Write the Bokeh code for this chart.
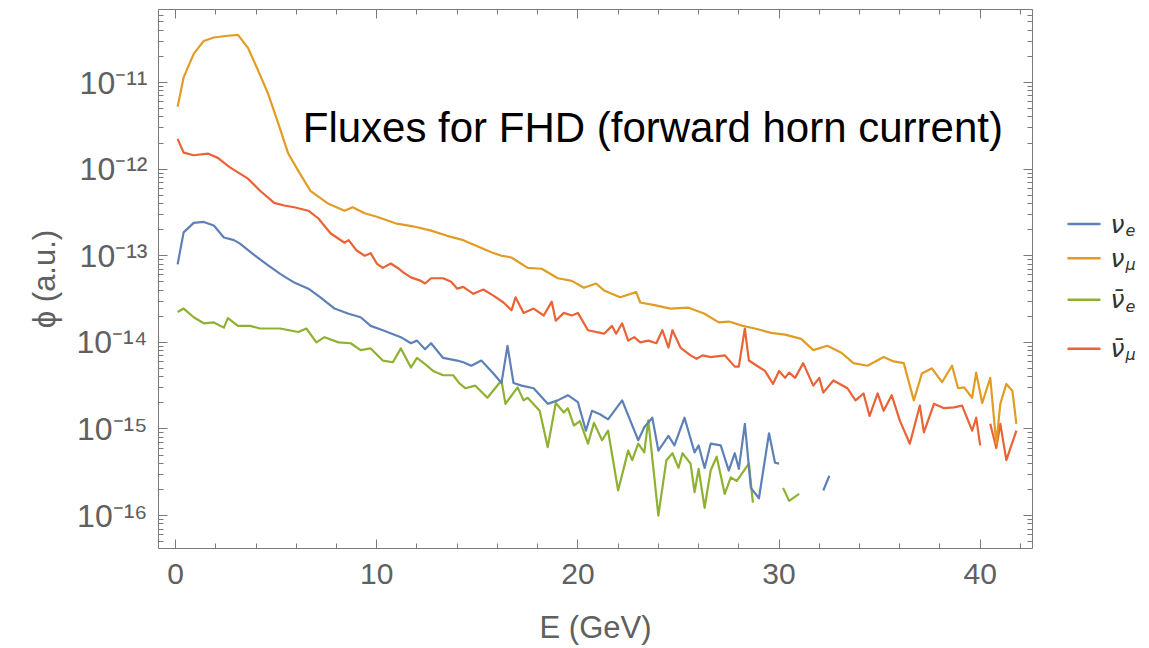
import math
from bokeh.plotting import figure
from bokeh.layouts import row
from bokeh.models import (Range1d, FixedTicker, LinearAxis, LogAxis, Label,
                          CustomJSTickFormatter, ColumnDataSource)
from bokeh.core.properties import value
from bokeh.embed import file_html
from bokeh.resources import INLINE

# ---------------- data (E in GeV, log10 of flux; None = gap) ----------------
nu_mu_E = [0.1, 0.4, 0.9, 1.4, 1.9, 2.6, 3.1, 3.6, 4.1, 4.6, 5.1, 5.6, 6.1, 6.7, 7.6, 8.4,
           8.8, 9.4, 10.0, 11.0, 11.8, 12.7, 13.5, 14.3, 15.0, 15.7, 16.2, 16.7, 17.5, 18.2,
           19.0, 19.7, 20.3, 20.9, 21.3, 22.1, 22.9, 23.1, 23.8, 24.6, 25.5, 26.3, 27.0,
           27.5, 28.2, 28.8, 29.6, 30.3, 31.1, 31.7, 32.4, 33.1, 33.7, 34.4, 35.2, 35.7,
           36.2, 36.7, 37.1, 37.6, 38.1, 38.6, 38.9, 39.2, 39.6, 39.8, 40.1, 40.5, 40.8,
           41.0, 41.3, 41.6, 41.8]
nu_mu_log = [-11.28, -10.94, -10.67, -10.52, -10.48, -10.46, -10.45, -10.60, -10.86, -11.13,
             -11.47, -11.82, -12.02, -12.25, -12.40, -12.48, -12.44, -12.51, -12.55, -12.63,
             -12.66, -12.71, -12.77, -12.82, -12.89, -12.96, -13.00, -13.02, -13.14, -13.15,
             -13.26, -13.29, -13.37, -13.32, -13.40, -13.48, -13.42, -13.54, -13.57, -13.61,
             -13.60, -13.67, -13.77, -13.76, -13.81, -13.84, -13.89, -13.91, -13.96, -14.09,
             -14.04, -14.12, -14.24, -14.27, -14.17, -14.22, -14.24, -14.67, -14.36, -14.30,
             -14.46, -14.27, -14.53, -14.52, -14.64, -14.35, -14.70, -14.41, -15.17, -14.71,
             -14.48, -14.56, -14.94]

anu_mu_E = [0.1, 0.4, 0.9, 1.6, 2.1, 2.7, 3.6, 4.2, 4.9, 5.4, 5.9, 6.6, 7.1, 7.7, 8.4, 8.6,
            9.0, 9.4, 9.7, 10.0, 10.3, 10.7, 11.1, 11.3, 11.7, 12.2, 12.4, 12.7, 13.3, 13.7,
            14.0, 14.3, 14.8, 15.3, 15.8, 16.3, 16.7, 16.9, 17.3, 17.8, 18.3, 18.7, 18.9,
            19.3, 19.7, 20.0, 20.5, 21.3, 21.7, 21.9, 22.2, 22.5, 22.8, 23.1, 23.5, 23.9,
            24.2, 24.5, 24.7, 25.1, 25.6, 25.9, 26.2, 26.6, 27.3, 27.8, 28.0, 28.3, 28.5,
            28.9, 29.3, 29.7, 30.0, 30.3, 30.5, 30.8, 31.2, 31.7, 32.0, 32.2, 32.7, 33.4,
            33.8, 34.2, 34.5, 34.9, 35.2, 35.6, 36.0, 36.5, 37.0, 37.2, 37.7, 38.2, 38.7,
            39.1, 39.6, 39.8, 40.0, 40.25, 40.5, 40.8, 41.0, 41.3, 41.8]
anu_mu_log = [-11.65, -11.81, -11.84, -11.82, -11.87, -11.98, -12.11, -12.25, -12.39, -12.42,
              -12.44, -12.48, -12.57, -12.74, -12.85, -12.82, -12.94, -13.00, -12.97, -13.09,
              -13.14, -13.09, -13.15, -13.19, -13.25, -13.29, -13.32, -13.26, -13.26, -13.30,
              -13.38, -13.36, -13.44, -13.39, -13.46, -13.54, -13.63, -13.48, -13.66, -13.61,
              -13.69, -13.53, -13.75, -13.66, -13.69, -13.66, -13.86, -13.90, -13.81, -13.90,
              -13.78, -13.98, -13.94, -14.00, -13.98, -14.01, -13.86, -14.06, -13.86, -14.06,
              -14.15, -14.19, -14.15, -14.17, -14.15, -14.28, -14.28, -13.84, -14.21, -14.27,
              -14.33, -14.48, -14.33, -14.41, -14.35, -14.41, -14.24, -14.50, -14.41, -14.58,
              -14.44, -14.53, -14.67, -14.59, -14.85, -14.59, -14.79, -14.61, -14.90, -15.17,
              -14.73, -15.04, -14.71, -14.76, -14.75, -14.73, -15.02, -14.87, -15.19, None,
              -14.94, -15.22, -14.94, -15.36, -15.02]

nu_e_E = [0.1, 0.4, 0.9, 1.4, 1.9, 2.4, 2.9, 3.2, 3.9, 4.6, 5.2, 5.9, 6.6, 7.2, 7.9, 8.6,
          9.2, 9.7, 10.3, 11.2, 11.7, 12.0, 12.4, 12.7, 13.3, 14.0, 14.3, 14.7, 15.2, 15.8,
          16.2, 16.5, 16.8, 17.2, 17.8, 18.5, 19.0, 19.5, 20.0, 20.4, 20.7, 21.1, 21.5,
          22.2, 23.0, 23.3, 23.7, 24.0, 24.5, 24.8, 25.3, 25.8, 26.0, 26.3, 26.6, 27.1,
          27.5, 27.8, 28.0, 28.3, 28.6, 29.0, 29.5, 29.8, 30.0, 31.1, 32.2, 32.5]
nu_e_log = [-13.10, -12.73, -12.62, -12.61, -12.65, -12.79, -12.82, -12.86, -12.99, -13.11,
            -13.21, -13.31, -13.38, -13.48, -13.61, -13.67, -13.71, -13.81, -13.86, -13.94,
            -14.01, -13.98, -14.08, -14.01, -14.18, -14.21, -14.23, -14.27, -14.21, -14.36,
            -14.47, -14.04, -14.47, -14.50, -14.53, -14.71, -14.67, -14.61, -14.69, -15.02,
            -14.79, -14.83, -14.89, -14.67, -15.13, -14.98, -14.87, -15.25, -15.08, -15.19,
            -14.87, -15.27, -15.19, -15.45, -15.17, -15.19, -15.48, -15.28, -15.46, -14.94,
            -15.68, -15.80, -15.05, -15.39, -15.40, None, -15.71, -15.54]

anu_e_E = [0.1, 0.4, 0.9, 1.4, 1.9, 2.4, 2.6, 3.1, 3.7, 4.2, 5.2, 6.1, 6.5, 7.0, 7.4, 8.1,
           8.7, 9.2, 9.7, 10.3, 10.8, 11.2, 11.7, 12.0, 12.4, 12.8, 13.3, 13.8, 14.1, 14.4,
           14.9, 15.5, 16.2, 16.4, 17.0, 17.3, 17.5, 18.1, 18.5, 18.9, 19.3, 19.5, 19.8,
           20.1, 20.5, 20.8, 21.2, 21.5, 22.0, 22.5, 22.7, 23.0, 23.3, 23.5, 24.0, 24.4,
           24.7, 25.0, 25.2, 25.6, 25.8, 26.0, 26.3, 26.6, 26.9, 27.3, 27.6, 27.9, 28.5,
           28.7, 29.4, 30.2, 30.5, 31.0]
anu_e_log = [-13.65, -13.61, -13.71, -13.78, -13.77, -13.83, -13.72, -13.81, -13.81, -13.84,
             -13.84, -13.88, -13.84, -14.00, -13.94, -14.00, -14.01, -14.09, -14.07, -14.21,
             -14.23, -14.07, -14.29, -14.18, -14.25, -14.33, -14.38, -14.38, -14.47, -14.53,
             -14.50, -14.64, -14.44, -14.71, -14.52, -14.67, -14.64, -14.79, -15.21, -14.70,
             -14.81, -14.76, -14.96, -14.91, -15.17, -14.93, -15.13, -15.02, -15.71, -15.25,
             -15.36, -15.17, -15.27, -14.90, -16.00, -15.36, -15.28, -15.45, -15.28, -15.40,
             -15.73, -15.46, -15.91, -15.48, -15.32, -15.75, -15.56, -15.60, -15.40, -15.85,
             None, -15.68, -15.83, -15.75]

x_major = [0, 10, 20, 30, 40]
x_minor = [v for v in range(-2, 44, 2) if v % 10 != 0]
y_decades = list(range(-17, -9))

series = [
    ("nu_e", nu_e_E, nu_e_log, "#5E81B5"),
    ("nu_mu", nu_mu_E, nu_mu_log, "#E19C24"),
    ("anu_e", anu_e_E, anu_e_log, "#8FB131"),
    ("anu_mu", anu_mu_E, anu_mu_log, "#EB6235"),
]
legend_main = ["\u03bd", "\u03bd", "\u03bd\u0304", "\u03bd\u0304"]
legend_sub = ["e", "\u03bc", "e", "\u03bc"]

# ---------------- main figure ----------------
AX = "#7a7a7a"
TXT = "#606060"
p = figure(width=1045, height=648, y_axis_type="log",
           x_range=Range1d(-0.85, 42.6), y_range=Range1d(10 ** -16.38, 10 ** -10.157),
           output_backend="svg", toolbar_location=None,
           min_border_left=158, min_border_right=13, min_border_top=9, min_border_bottom=100)
p.grid.visible = False
p.outline_line_color = None
p.background_fill_color = "white"
p.border_fill_color = "white"

draw_order = [2, 0, 3, 1]
for i in draw_order:
    name, E, L, col = series[i]
    y = [10 ** v if v is not None else float("nan") for v in L]
    src = ColumnDataSource(dict(E=E, phi=y))
    p.line("E", "phi", source=src, line_color=col, line_width=2.2, line_join="round")

y_ticks = [10.0 ** k for k in y_decades]
y_minor = [m * 10.0 ** k for k in y_decades for m in range(2, 10)]
yt = FixedTicker(ticks=y_ticks, minor_ticks=y_minor)
xt = FixedTicker(ticks=x_major, minor_ticks=x_minor)

sup_code = """
const e = Math.round(Math.log10(tick));
const sup = {'-':'\u207b','0':'\u2070','1':'\u00b9','2':'\u00b2','3':'\u00b3','4':'\u2074',
             '5':'\u2075','6':'\u2076','7':'\u2077','8':'\u2078','9':'\u2079'};
return '10' + String(e).split('').map(c => sup[c]).join('');
"""

def style(ax):
    ax.axis_line_color = AX
    ax.major_tick_line_color = AX
    ax.minor_tick_line_color = AX
    ax.major_tick_in = 9
    ax.major_tick_out = 0
    ax.minor_tick_in = 5
    ax.minor_tick_out = 0
    ax.major_label_text_color = TXT
    ax.major_label_text_font = "Liberation Sans"
    ax.axis_label_text_color = TXT
    ax.axis_label_text_font = "Liberation Sans"
    ax.axis_label_text_font_style = "normal"

xa = p.xaxis[0]
xa.ticker = xt
style(xa)
xa.major_label_text_font_size = "30px"
xa.major_label_standoff = 15
xa.axis_label = "E (GeV)"
xa.axis_label_text_font_size = "31px"
xa.axis_label_standoff = 23

ya = p.yaxis[0]
ya.ticker = yt
style(ya)
ya.formatter = CustomJSTickFormatter(code=sup_code)
ya.major_label_text_font_size = "32px"
ya.major_label_standoff = 11
ya.axis_label = "\u03d5 (a.u.)"
ya.axis_label_text_font_size = "31px"
ya.axis_label_standoff = 12

empty = "return ''"
top = LinearAxis(ticker=xt, formatter=CustomJSTickFormatter(code=empty))
style(top)
top.major_label_text_font_size = "1px"
top.major_label_standoff = 0
p.add_layout(top, "above")
right = LogAxis(ticker=yt, formatter=CustomJSTickFormatter(code=empty))
style(right)
right.major_label_text_font_size = "1px"
right.major_label_standoff = 0
p.add_layout(right, "right")

title = Label(x=6.32, y=10 ** -11.52, text="Fluxes for FHD (forward horn current)",
              text_font="Liberation Sans", text_font_size="42px", text_color="black",
              text_baseline="alphabetic", text_align="left")
p.add_layout(title)

# ---------------- legend panel ----------------
lg = figure(width=104, height=648, x_range=Range1d(0, 104), y_range=Range1d(648, 0),
            output_backend="svg", toolbar_location=None,
            min_border=0)
lg.axis.visible = False
lg.grid.visible = False
lg.outline_line_color = None
lg.border_fill_color = "white"
ly = [258, 299, 349, 408]
cols = [s[3] for s in series]
lg.segment(x0=[22] * 4, y0=ly, x1=[55] * 4, y1=ly, line_color=cols, line_width=2.5)
lg.text(x=[65] * 4, y=ly, text=legend_main, text_font=value("DejaVu Sans"),
        text_font_style="italic", text_font_size="25px", text_color="#333333",
        text_baseline="middle", text_align="left")
lg.text(x=[80] * 4, y=[v + 7 for v in ly], text=legend_sub, text_font=value("DejaVu Sans"),
        text_font_style="italic", text_font_size="16px", text_color="#333333",
        text_baseline="middle", text_align="left")

layout = row(p, lg)
open("out.html", "w").write(file_html(layout, INLINE))
